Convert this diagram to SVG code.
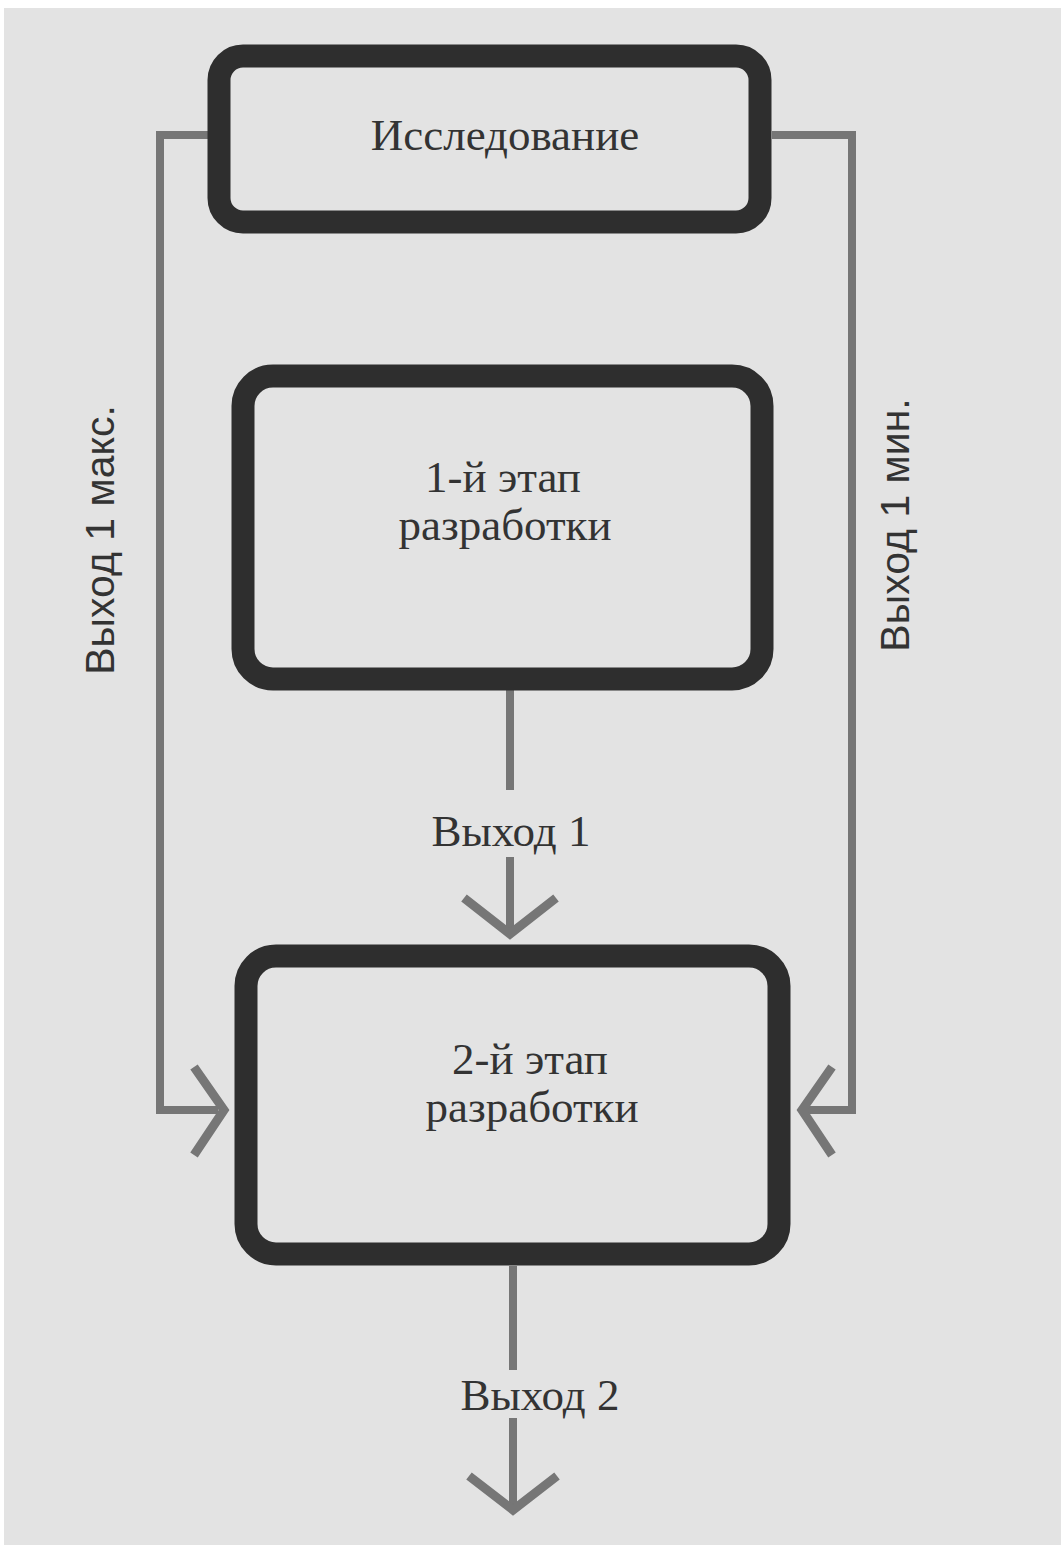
<svg xmlns="http://www.w3.org/2000/svg" width="1061" height="1545" viewBox="0 0 1061 1545">
<style>
.box{fill:none;stroke:#2e2e2e;stroke-width:23}
.ln{fill:none;stroke:#767676;stroke-width:8;stroke-linecap:butt;stroke-linejoin:miter}
.ah{fill:none;stroke:#767676;stroke-width:9;stroke-linecap:butt;stroke-linejoin:miter}
.t{font-family:"Liberation Serif","Times New Roman",serif;font-size:45px;fill:#333;text-anchor:middle}
.s{font-family:"Liberation Sans",Arial,sans-serif;font-size:41px;fill:#333;text-anchor:middle}
</style>
<rect x="0" y="0" width="1061" height="1545" fill="#ffffff"/>
<rect x="4" y="8" width="1057" height="1537" fill="#e3e3e3"/>
<g id="connectors">
<polyline class="ln" points="208,135 160,135 160,1110 218,1110"/>
<polyline class="ah" points="194,1067 224,1110 194,1155"/>
<polyline class="ln" points="772,135 852,135 852,1110 806,1110"/>
<polyline class="ah" points="832,1067 802,1110 832,1155"/>
<line class="ln" x1="510" y1="690" x2="510" y2="790"/>
<line class="ln" x1="510" y1="857" x2="510" y2="932"/>
<polyline class="ah" points="464,898 510,934 556,898"/>
<line class="ln" x1="513" y1="1266" x2="513" y2="1370"/>
<line class="ln" x1="513" y1="1418" x2="513" y2="1508"/>
<polyline class="ah" points="469,1476 513,1510 557,1476"/>
</g>
<g id="n1">
<rect class="box" x="219" y="56" width="541" height="166" rx="24"/>
<text class="t" x="505" y="150">Исследование</text>
</g>
<g id="n2">
<rect class="box" x="243" y="376" width="519" height="303" rx="30"/>
<text class="t" x="503" y="492">1-й этап</text>
<text class="t" x="505" y="540">разработки</text>
</g>
<g id="n3">
<rect class="box" x="246" y="956" width="533" height="298" rx="30"/>
<text class="t" x="530" y="1074">2-й этап</text>
<text class="t" x="532" y="1122">разработки</text>
</g>
<g id="labels">
<text class="t" x="511" y="846">Выход 1</text>
<text class="t" x="540" y="1410">Выход 2</text>
<text class="s" transform="translate(114,540) rotate(-90)">Выход 1 макс.</text>
<text class="s" transform="translate(909,525) rotate(-90)">Выход 1 мин.</text>
</g>
</svg>
